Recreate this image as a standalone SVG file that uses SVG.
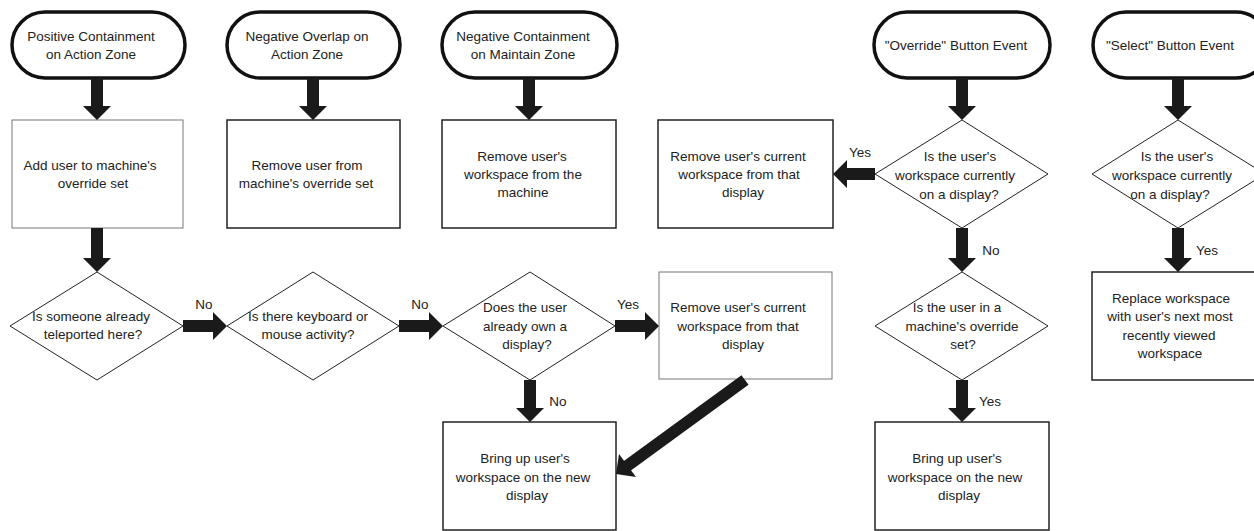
<svg xmlns="http://www.w3.org/2000/svg" width="1254" height="531" viewBox="0 0 1254 531">
<style>
.term{fill:#fff;stroke:#111;stroke-width:3.5}
.box{fill:#fff;stroke:#222;stroke-width:1.5}
.boxl{fill:#fff;stroke:#777;stroke-width:1}
.dia{fill:#fff;stroke:#222;stroke-width:1}
text{font-family:"Liberation Sans",Arial,sans-serif;font-size:13.5px;fill:#222;text-anchor:middle}
.arr{fill:#1a1a1a;stroke:none}
</style>
<rect width="1254" height="531" fill="#fff"/>
<g id="t1"><rect class="term" x="12" y="12" width="173" height="66" rx="33" ry="33"/><text x="91" y="41">Positive Containment</text><text x="91" y="59">on Action Zone</text></g>
<g id="t2"><rect class="term" x="227" y="12" width="173" height="66" rx="33" ry="33"/><text x="307" y="41">Negative Overlap on</text><text x="307" y="59">Action Zone</text></g>
<g id="t3"><rect class="term" x="442" y="12" width="175" height="66" rx="33" ry="33"/><text x="523" y="41">Negative Containment</text><text x="523" y="59">on Maintain Zone</text></g>
<g id="t4"><rect class="term" x="874" y="12" width="176" height="66" rx="33" ry="33"/><text x="956" y="50">"Override" Button Event</text></g>
<g id="t5"><rect class="term" x="1093" y="12" width="176" height="66" rx="33" ry="33"/><text x="1170" y="50">"Select" Button Event</text></g>
<g id="b1"><rect class="boxl" x="12" y="120" width="171" height="108"/><text x="90" y="170">Add user to machine's</text><text x="93" y="188">override set</text></g>
<g id="b2"><rect class="box" x="227" y="120" width="173" height="108"/><text x="307" y="170">Remove user from</text><text x="306" y="188">machine's override set</text></g>
<g id="b3"><rect class="box" x="442" y="120" width="174" height="108"/><text x="522" y="161">Remove user's</text><text x="523" y="179">workspace from the</text><text x="523" y="197">machine</text></g>
<g id="b4"><rect class="box" x="658" y="120" width="175" height="108"/><text x="738" y="161">Remove user's current</text><text x="739" y="179">workspace from that</text><text x="743" y="197">display</text></g>
<g id="d1"><polygon class="dia" points="962,120 1048,174 962,228 875,174"/><text x="960" y="161">Is the user's</text><text x="955" y="180">workspace currently</text><text x="959" y="199">on a display?</text></g>
<g id="d2"><polygon class="dia" points="1178,120 1265,174 1178,228 1092,174"/><text x="1177" y="161">Is the user's</text><text x="1172" y="180">workspace currently</text><text x="1170" y="199">on a display?</text></g>
<g id="da"><polygon class="dia" points="97,272 183,326 97,380 10,326"/><text x="91" y="321">Is someone already</text><text x="93" y="339">teleported here?</text></g>
<g id="db"><polygon class="dia" points="313,272 399,326 313,380 227,326"/><text x="308" y="321">Is there keyboard or</text><text x="308" y="339">mouse activity?</text></g>
<g id="dc"><polygon class="dia" points="530,272 615,326 530,380 443,326"/><text x="525" y="312">Does the user</text><text x="525" y="331">already own a</text><text x="527" y="349">display?</text></g>
<g id="b5"><rect class="boxl" x="659" y="272" width="173" height="107"/><text x="738" y="312">Remove user's current</text><text x="738" y="331">workspace from that</text><text x="743" y="349">display</text></g>
<g id="dd"><polygon class="dia" points="962,272 1048,326 962,380 875,326"/><text x="957" y="312">Is the user in a</text><text x="962" y="331">machine's override</text><text x="963" y="349">set?</text></g>
<g id="b8"><rect class="box" x="1092" y="272" width="175" height="108"/><text x="1171" y="303">Replace workspace</text><text x="1170" y="321">with user's next most</text><text x="1169" y="340">recently viewed</text><text x="1170" y="358">workspace</text></g>
<g id="b6"><rect class="box" x="443" y="422" width="173" height="108"/><text x="525" y="463">Bring up user's</text><text x="523" y="482">workspace on the new</text><text x="527" y="500">display</text></g>
<g id="b7"><rect class="box" x="875" y="422" width="174" height="108"/><text x="957" y="463">Bring up user's</text><text x="955" y="482">workspace on the new</text><text x="959" y="500">display</text></g>
<g id="connectors">
<polygon class="arr" points="91,78 103,78 103,106 111,106 97,120 83,106 91,106"/>
<polygon class="arr" points="307,78 319,78 319,106 327,106 313,120 299,106 307,106"/>
<polygon class="arr" points="523,78 535,78 535,106 543,106 529,120 515,106 523,106"/>
<polygon class="arr" points="956,78 968,78 968,106 976,106 962,120 948,106 956,106"/>
<polygon class="arr" points="1172,78 1184,78 1184,106 1192,106 1178,120 1164,106 1172,106"/>
<polygon class="arr" points="91,228 103,228 103,258 111,258 97,272 83,258 91,258"/>
<polygon class="arr" points="183,320 183,332 213,332 213,340 227,326 213,312 213,320"/>
<polygon class="arr" points="399,320 399,332 429,332 429,340 443,326 429,312 429,320"/>
<polygon class="arr" points="615,320 615,332 645,332 645,340 659,326 645,312 645,320"/>
<polygon class="arr" points="524,380 536,380 536,408 544,408 530,422 516,408 524,408"/>
<line x1="745" y1="380" x2="627" y2="466" stroke="#1a1a1a" stroke-width="12"/>
<polygon class="arr" points="616,474 619,454 636,477"/>
<polygon class="arr" points="875,168 875,180 847,180 847,188 833,174 847,160 847,168"/>
<polygon class="arr" points="956,228 968,228 968,258 976,258 962,272 948,258 956,258"/>
<polygon class="arr" points="956,380 968,380 968,408 976,408 962,422 948,408 956,408"/>
<polygon class="arr" points="1172,228 1184,228 1184,258 1192,258 1178,272 1164,258 1172,258"/>
<text x="860" y="157">Yes</text>
<text x="204" y="309">No</text>
<text x="420" y="309">No</text>
<text x="628" y="309">Yes</text>
<text x="558" y="406">No</text>
<text x="991" y="255">No</text>
<text x="1207" y="255">Yes</text>
<text x="990" y="406">Yes</text>
</g>
</svg>
